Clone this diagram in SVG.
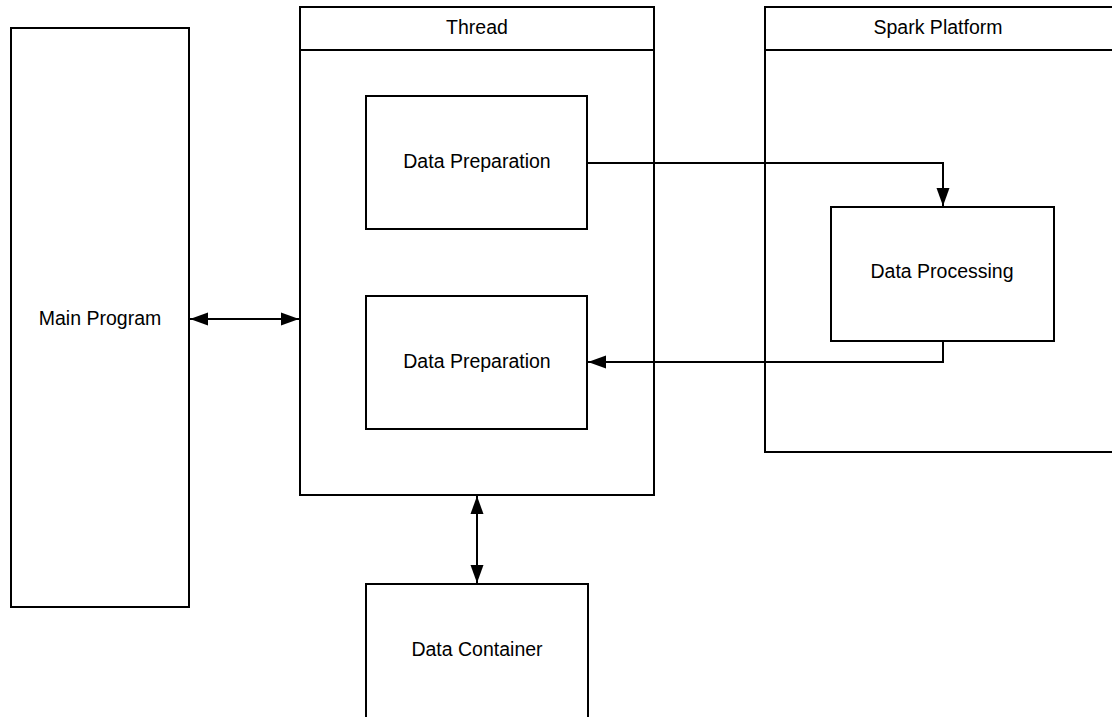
<svg xmlns="http://www.w3.org/2000/svg" width="1112" height="717" viewBox="0 0 1112 717">
  <style>
    .box { fill: #ffffff; stroke: #000000; stroke-width: 2; }
    .sep { fill: none; stroke: #000000; stroke-width: 2; }
    .label { font-family: "Liberation Sans", Arial, sans-serif; font-size: 19.5px; fill: #000000; text-anchor: middle; dominant-baseline: central; }
    .edge { fill: none; stroke: #000000; stroke-width: 2; }
  </style>
  <defs>
    <marker id="arrow-end" markerWidth="18" markerHeight="14" refX="18" refY="7" orient="auto" markerUnits="userSpaceOnUse">
      <path d="M0,0.5 L18,7 L0,13.5 Z" fill="#000000"/>
    </marker>
    <marker id="arrow-start" markerWidth="18" markerHeight="14" refX="0" refY="7" orient="auto" markerUnits="userSpaceOnUse">
      <path d="M18,0.5 L0,7 L18,13.5 Z" fill="#000000"/>
    </marker>
  </defs>
  <rect width="1112" height="717" fill="#ffffff"/>

  <g id="main-program">
    <rect class="box" x="11" y="28" width="178" height="579"/>
    <text class="label" x="100" y="318">Main Program</text>
  </g>

  <g id="thread">
    <rect class="box" x="300" y="7" width="354" height="488"/>
    <line class="sep" x1="300" y1="50" x2="654" y2="50"/>
    <text class="label" x="477" y="27">Thread</text>
  </g>

  <g id="spark-platform">
    <rect class="box" x="765" y="7" width="360" height="445"/>
    <line class="sep" x1="765" y1="50" x2="1125" y2="50"/>
    <text class="label" x="938" y="27">Spark Platform</text>
  </g>

  <g id="data-preparation-1">
    <rect class="box" x="366" y="96" width="221" height="133"/>
    <text class="label" x="477" y="161">Data Preparation</text>
  </g>

  <g id="data-preparation-2">
    <rect class="box" x="366" y="296" width="221" height="133"/>
    <text class="label" x="477" y="361">Data Preparation</text>
  </g>

  <g id="data-processing">
    <rect class="box" x="831" y="207" width="223" height="134"/>
    <text class="label" x="942" y="271">Data Processing</text>
  </g>

  <g id="data-container">
    <rect class="box" x="366" y="584" width="222" height="160"/>
    <text class="label" x="477" y="649">Data Container</text>
  </g>

  <g id="connectors">
    <line class="edge" x1="190" y1="319" x2="299" y2="319" marker-start="url(#arrow-start)" marker-end="url(#arrow-end)"/>
    <polyline class="edge" points="587,163 943,163 943,206" marker-end="url(#arrow-end)"/>
    <polyline class="edge" points="943,341 943,362 588,362" marker-end="url(#arrow-end)"/>
    <line class="edge" x1="477" y1="496" x2="477" y2="583" marker-start="url(#arrow-start)" marker-end="url(#arrow-end)"/>
  </g>
</svg>
